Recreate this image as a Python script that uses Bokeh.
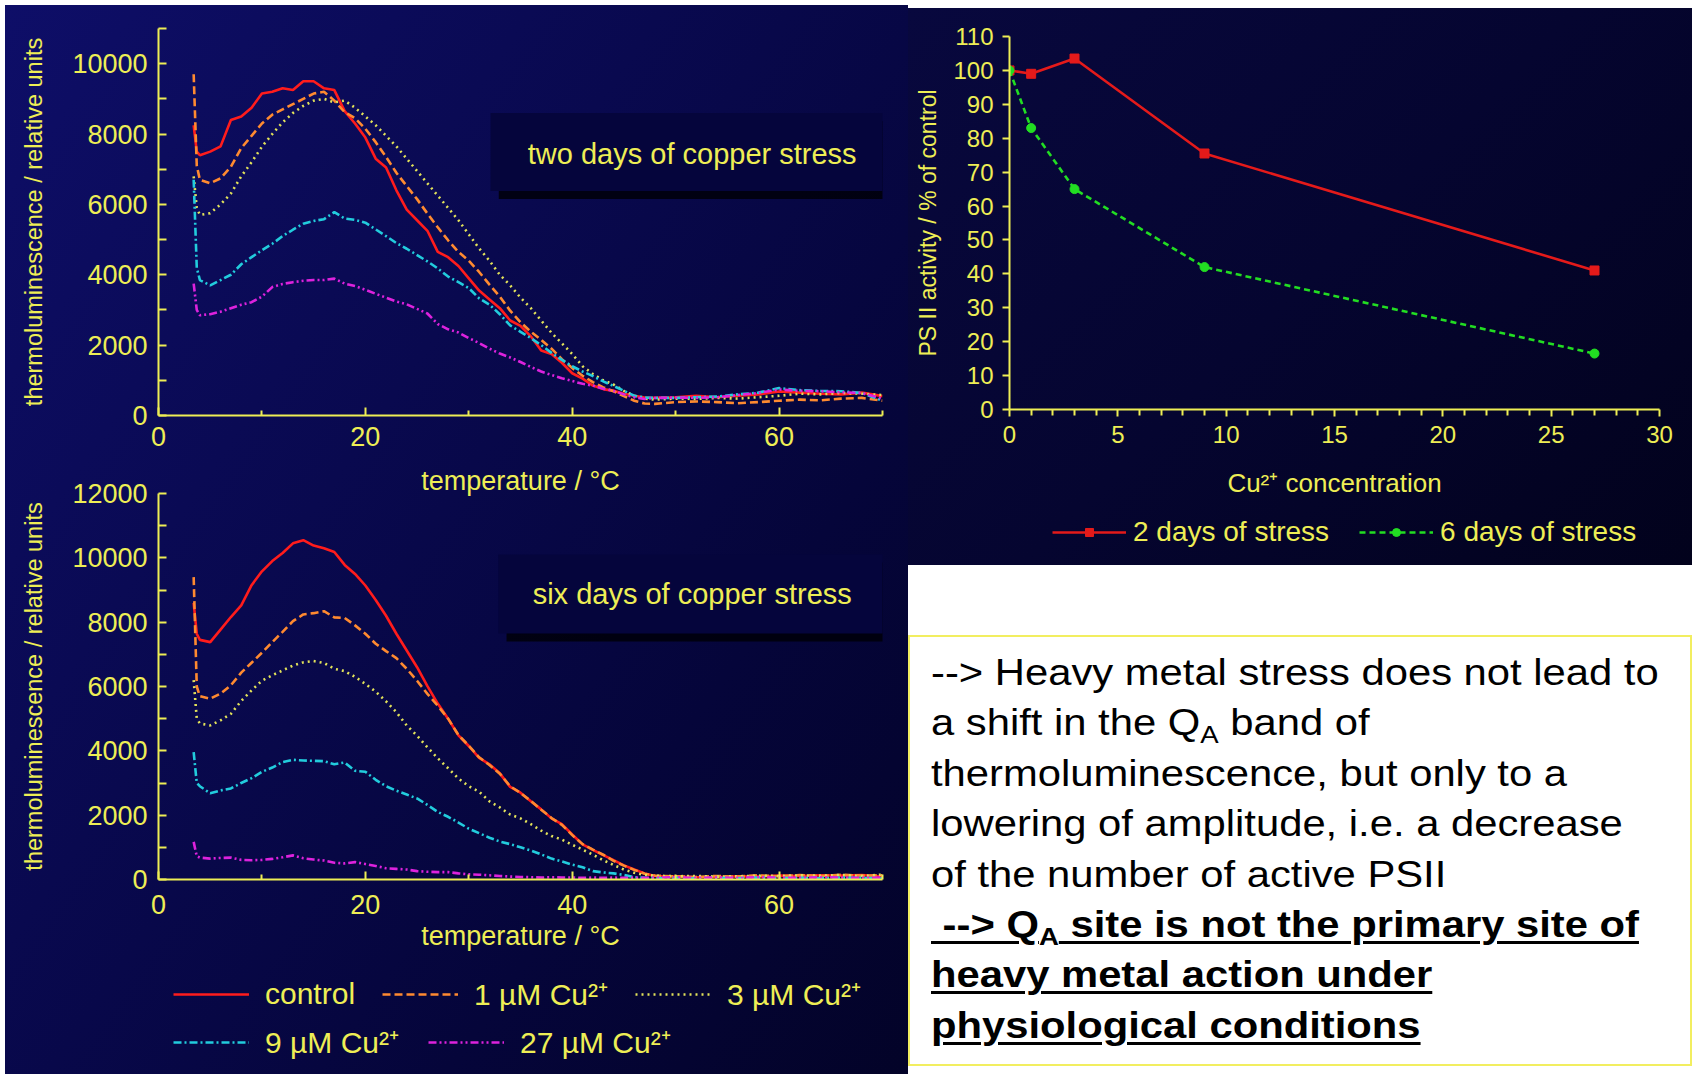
from bokeh.plotting import figure
from bokeh.models import Legend, LegendItem, Div, Range1d, FixedTicker, Label, BoxAnnotation
from bokeh.layouts import row, column
from bokeh.embed import file_html
from bokeh.resources import INLINE

# ---------------- data ----------------
temperature = [3.4, 3.7, 4,
               5, 6, 7, 8, 9, 10, 11, 12, 13, 14,
               15, 16, 17, 18, 19, 20, 21, 22, 23, 24,
               25, 26, 27, 28, 29, 30, 31, 32, 33, 34,
               35, 36, 37, 38, 39, 40, 41, 42, 43, 44,
               45, 46, 47,
               48, 50, 52, 54, 56, 58, 60, 62, 64, 66, 68, 70]

two_days_control = [8250, 7500, 7400,
                    7500, 7650, 8400, 8500, 8750, 9150, 9200, 9300, 9250, 9500,
                    9500, 9300, 9250, 8650, 8300, 7900, 7300, 7050, 6400, 5850,
                    5550, 5250, 4650, 4500, 4250, 3900, 3550, 3300, 3050, 2700,
                    2550, 2250, 1850, 1750, 1500, 1200, 1050, 850, 750, 700,
                    620, 560, 510,
                    500, 520, 560, 520, 560, 600, 680, 650, 620, 600, 650, 550]
two_days_cu1 = [9700, 7100, 6700,
                6600, 6740, 7070, 7600, 7950, 8300, 8550, 8700, 8850, 9000,
                9150, 9200, 8950, 8620, 8450, 8150, 7770, 7350, 6900, 6520,
                6150, 5740, 5350, 4980, 4650, 4400, 4080, 3720, 3380, 2980,
                2650, 2380, 2150, 1900, 1600, 1350, 1130, 950, 800, 690,
                550, 420, 340,
                330, 380, 400, 380, 350, 380, 420, 450, 430, 480, 500, 420]
two_days_cu3 = [6800, 5900, 5700,
                5750, 6000, 6310, 6800, 7200, 7640, 8000, 8330, 8600, 8800,
                8950, 9000, 8900, 8950, 8750, 8500, 8250, 7950, 7650, 7300,
                6950, 6600, 6250, 5900, 5550, 5150, 4750, 4400, 4000, 3700,
                3350, 3050, 2700, 2350, 2050, 1750, 1400, 1180, 1000, 880,
                700, 560, 480,
                450, 480, 470, 500, 480, 520, 560, 620, 600, 640, 620, 580]
two_days_cu9 = [6700, 4200, 3850,
                3700, 3850, 4000, 4300, 4500, 4700, 4880, 5100, 5280, 5450,
                5530, 5580, 5780, 5600, 5560, 5480, 5290, 5100, 4900, 4740,
                4560, 4380, 4180, 3950, 3790, 3620, 3330, 3150, 2880, 2560,
                2380, 2200, 2000, 1780, 1580, 1400, 1250, 1120, 970, 840,
                700, 560, 510,
                500, 500, 520, 540, 600, 650, 780, 720, 700, 690, 640, 420]
two_days_cu27 = [3750, 3000, 2850,
                 2880, 2950, 3050, 3150, 3220, 3380, 3650, 3740, 3790, 3830,
                 3850, 3850, 3890, 3750, 3680, 3570, 3460, 3350, 3240, 3160,
                 3030, 2900, 2600, 2450, 2360, 2200, 2060, 1900, 1760, 1650,
                 1520, 1380, 1250, 1150, 1060, 980, 900, 850, 760, 700,
                 600, 520, 470,
                 500, 510, 500, 520, 580, 640, 740, 700, 690, 660, 640, 480]

six_days_control = [8600, 7640, 7450,
                    7380, 7770, 8160, 8520, 9150, 9580, 9900, 10150, 10450, 10550,
                    10380, 10300, 10180, 9780, 9500, 9140, 8690, 8200, 7640, 7120,
                    6600, 6010, 5470, 5000, 4480, 4150, 3780, 3580, 3300, 2880,
                    2700, 2430, 2180, 1900, 1720, 1400, 1090, 920, 760, 600,
                    440, 310, 190,
                    110, 90, 70, 80, 100, 90, 120, 110, 130, 120, 140, 90]
six_days_cu1 = [9400, 6000, 5700,
                5620, 5780, 6040, 6430, 6740, 7050, 7380, 7700, 8030, 8240,
                8280, 8340, 8150, 8130, 7900, 7640, 7330, 7100, 6880, 6550,
                6180, 5770, 5400, 5000, 4490, 4160, 3800, 3560, 3290, 2900,
                2690, 2440, 2170, 1910, 1700, 1380, 1100, 930, 770, 580,
                430, 300, 180,
                120, 100, 80, 110, 90, 130, 100, 140, 110, 150, 120, 130]
six_days_cu3 = [6200, 5000, 4850,
                4790, 4950, 5150, 5550, 5880, 6180, 6350, 6500, 6650, 6750,
                6790, 6730, 6550, 6480, 6300, 6080, 5840, 5540, 5200, 4790,
                4470, 4110, 3770, 3460, 3140, 2900, 2730, 2430, 2240, 2020,
                1900, 1720, 1520, 1350, 1240, 1080, 930, 770, 600, 450,
                310, 210, 140,
                120, 100, 110, 90, 100, 120, 110, 130, 120, 140, 110, 150]
six_days_cu9 = [3960, 3000, 2900,
                2680, 2770, 2830, 3000, 3150, 3350, 3480, 3650, 3720, 3700,
                3690, 3680, 3580, 3640, 3380, 3350, 3100, 2900, 2760, 2640,
                2520, 2320, 2100, 1950, 1770, 1580, 1440, 1300, 1180, 1100,
                1000, 900, 780, 650, 560, 460, 380, 260, 220, 190,
                140, 70, 50,
                40, 50, 30, 50, 40, 60, 40, 50, 40, 60, 50, 40]
six_days_cu27 = [1170, 720, 680,
                 650, 670, 680, 610, 600, 610, 640, 690, 750, 660,
                 620, 590, 520, 500, 540, 480, 420, 350, 330, 310,
                 260, 240, 230, 230, 190, 160, 150, 130, 110, 90,
                 80, 70, 60, 70, 60, 60, 50, 60, 50, 60,
                 50, 60, 50,
                 60, 70, 50, 60, 50, 70, 60, 50, 70, 60, 50, 60]

series_labels = ["control", "1 µM Cu²⁺", "3 µM Cu²⁺", "9 µM Cu²⁺", "27 µM Cu²⁺"]

cu_concentration = [0, 1, 3, 9, 27]
psii_two_days = [100, 99, 103.5, 75.5, 41]
psii_six_days = [100, 83, 65, 42, 16.5]
stress_labels = ["2 days of stress", "6 days of stress"]

thermo_x_ticks = [0, 20, 40, 60]
thermo_x_minor = [10, 30, 50, 70]
top_y_ticks = [0, 2000, 4000, 6000, 8000, 10000]
top_y_minor = [1000, 3000, 5000, 7000, 9000, 11000]
bot_y_ticks = [0, 2000, 4000, 6000, 8000, 10000, 12000]
bot_y_minor = [1000, 3000, 5000, 7000, 9000, 11000]
ps_x_ticks = [0, 5, 10, 15, 20, 25, 30]
ps_y_ticks = [0, 10, 20, 30, 40, 50, 60, 70, 80, 90, 100, 110]

# ---------------- style ----------------
FONT = "Liberation Sans"
YEL = "#eeee55"
LINE_STYLES = [("#ff1c1c", "solid"), ("#ff8a30", "8 4"), ("#e2e25a", "2 4"),
               ("#22ccdd", "8 3 2 3"), ("#dd22dd", "8 3 2 3 2 3")]
RED2, GREEN6 = "#e41a1a", "#22dd22"


def base_fig(width, height, x_end, y_end, borders):
    p = figure(width=width, height=height,
               x_range=Range1d(0, x_end), y_range=Range1d(0, y_end),
               output_backend="svg", toolbar_location=None,
               min_border_left=borders[0], min_border_right=borders[1],
               min_border_top=borders[2], min_border_bottom=borders[3],
               background_fill_alpha=0, border_fill_alpha=0,
               outline_line_color=None, margin=0)
    p.xgrid.visible = False
    p.ygrid.visible = False
    for ax in (p.xaxis[0], p.yaxis[0]):
        ax.axis_line_color = YEL
        ax.axis_line_width = 2
        ax.major_tick_line_color = YEL
        ax.minor_tick_line_color = YEL
        ax.major_tick_line_width = 2
        ax.minor_tick_line_width = 2
        ax.major_label_text_color = YEL
        ax.major_label_text_font = FONT
        ax.axis_label_text_color = YEL
        ax.axis_label_text_font = FONT
        ax.axis_label_text_font_style = "normal"
    return p


def legend_fig(width, height, x_end):
    # strip that only carries a legend; its y-range lies below all data, so the
    # proxy renderers (built from the real series) stay outside the visible frame
    p = figure(width=width, height=height, x_range=Range1d(0, x_end), y_range=Range1d(-2, -1),
               output_backend="svg", toolbar_location=None,
               x_axis_location=None, y_axis_location=None,
               min_border=0, background_fill_alpha=0, border_fill_alpha=0,
               outline_line_color=None, margin=0)
    p.xgrid.visible = False
    p.ygrid.visible = False
    return p


def make_legend(items, loc, font, glyph_w, standoff, spacing):
    return Legend(items=items, orientation="horizontal", location=loc,
                  glyph_width=glyph_w, glyph_height=20, label_standoff=standoff,
                  spacing=spacing, padding=0, margin=0, border_line_alpha=0,
                  background_fill_alpha=0, label_text_font_size=font,
                  label_text_color=YEL, label_text_font=FONT)


def thermo_fig(height, y_end, y_ticks, y_minor, top_b, bottom_b, values, title,
               box, shadow_dy, title_y, xlab_standoff, xtick_standoff):
    p = base_fig(903, height, 70, y_end, (153, 26, top_b, bottom_b))
    p.xaxis.ticker = FixedTicker(ticks=thermo_x_ticks, minor_ticks=thermo_x_minor)
    p.yaxis.ticker = FixedTicker(ticks=y_ticks, minor_ticks=y_minor)
    p.xaxis.major_tick_in = 8
    p.xaxis.major_tick_out = 0
    p.xaxis.minor_tick_in = 5
    p.xaxis.minor_tick_out = 0
    p.yaxis.major_tick_in = 8
    p.yaxis.major_tick_out = 0
    p.yaxis.minor_tick_in = 8
    p.yaxis.minor_tick_out = 0
    p.xaxis.major_label_text_font_size = "27px"
    p.yaxis.major_label_text_font_size = "27px"
    p.xaxis.major_label_standoff = xtick_standoff
    p.yaxis.major_label_standoff = 11
    p.xaxis.axis_label = "temperature / °C"
    p.xaxis.axis_label_text_font_size = "27px"
    p.xaxis.axis_label_standoff = xlab_standoff
    p.yaxis.axis_label = "thermoluminescence / relative units"
    p.yaxis.axis_label_text_font_size = "23.5px"
    p.yaxis.axis_label_standoff = 22

    left, right, top, bottom = box
    p.add_layout(BoxAnnotation(left=left + 0.8, right=right + 0.8, top=top - shadow_dy,
                               bottom=bottom - shadow_dy, fill_color="#000008",
                               fill_alpha=0.85, line_alpha=0))
    p.add_layout(BoxAnnotation(left=left, right=right, top=top, bottom=bottom,
                               fill_color="#05053c", fill_alpha=1, line_alpha=0))
    p.add_layout(Label(x=51.6, y=title_y, text=title, text_align="center",
                       text_baseline="middle", text_color=YEL, text_font=FONT,
                       text_font_size="29px"))

    for vals, (col, dash) in zip(values, LINE_STYLES):
        p.line(temperature, vals, line_color=col, line_width=2.6, line_dash=dash)
    return p


six_days_all = [six_days_control, six_days_cu1, six_days_cu3, six_days_cu9, six_days_cu27]

fig_t = thermo_fig(500, 11000, top_y_ticks, top_y_minor, 23, 90,
                   [two_days_control, two_days_cu1, two_days_cu3, two_days_cu9, two_days_cu27],
                   "two days of copper stress", (32.1, 71.0, 8600, 6380), 227, 7435, 17, 11)

fig_b = thermo_fig(479, 12000, bot_y_ticks, bot_y_minor, 13, 80, six_days_all,
                   "six days of copper stress", (32.85, 70.7, 10100, 7650), 248, 8890, 4, 15)
fig_b.margin = (-25, 0, 0, 0)

# legend strip under the six-days chart (frame aligned with the chart frame)
fig_leg = legend_fig(903, 115, 70)
leg_renderers = [fig_leg.line(temperature, vals, line_color=col, line_width=2.6, line_dash=dash)
                 for vals, (col, dash) in zip(six_days_all, LINE_STYLES)]
leg_a = make_legend([LegendItem(label=series_labels[i], renderers=[leg_renderers[i]])
                     for i in range(3)], (15, 60), "30px", 76, 16, 27)
leg_b = make_legend([LegendItem(label=series_labels[i], renderers=[leg_renderers[i]])
                     for i in range(3, 5)], (15, 12), "30px", 76, 16, 29)
fig_leg.add_layout(leg_a)
fig_leg.add_layout(leg_b)

# ---------------- PS II activity chart ----------------
fig_r = base_fig(784, 495, 30, 110, (101, 33, 28, 94))
fig_r.xaxis.ticker = FixedTicker(ticks=ps_x_ticks, minor_ticks=[i for i in range(31) if i % 5])
fig_r.yaxis.ticker = FixedTicker(ticks=ps_y_ticks, minor_ticks=[])
fig_r.xaxis.major_tick_in = 0
fig_r.xaxis.major_tick_out = 7
fig_r.xaxis.minor_tick_in = 0
fig_r.xaxis.minor_tick_out = 6
fig_r.yaxis.major_tick_in = 0
fig_r.yaxis.major_tick_out = 7
fig_r.xaxis.major_label_text_font_size = "24px"
fig_r.yaxis.major_label_text_font_size = "24px"
fig_r.xaxis.major_label_standoff = 9
fig_r.yaxis.major_label_standoff = 9
fig_r.xaxis.axis_label = "Cu²⁺ concentration"
fig_r.xaxis.axis_label_text_font_size = "26px"
fig_r.xaxis.axis_label_standoff = 22
fig_r.yaxis.axis_label = "PS II activity / % of control"
fig_r.yaxis.axis_label_text_font_size = "23px"
fig_r.yaxis.axis_label_standoff = 9

fig_r.line(cu_concentration, psii_two_days, line_color=RED2, line_width=2.6)
fig_r.scatter(cu_concentration, psii_two_days, marker="square", size=9,
              fill_color=RED2, line_color=RED2)
fig_r.line(cu_concentration, psii_six_days, line_color=GREEN6, line_width=2.6, line_dash="6 4")
fig_r.scatter(cu_concentration, psii_six_days, marker="circle", size=9,
              fill_color=GREEN6, line_color=GREEN6)

fig_rleg = legend_fig(784, 62, 30)
rl2 = fig_rleg.line(cu_concentration, psii_two_days, line_color=RED2, line_width=2.6)
rs2 = fig_rleg.scatter(cu_concentration, psii_two_days, marker="square", size=9,
                       fill_color=RED2, line_color=RED2)
rl6 = fig_rleg.line(cu_concentration, psii_six_days, line_color=GREEN6, line_width=2.6,
                    line_dash="6 4")
rs6 = fig_rleg.scatter(cu_concentration, psii_six_days, marker="circle", size=9,
                       fill_color=GREEN6, line_color=GREEN6)
leg_r = make_legend([LegendItem(label=stress_labels[0], renderers=[rl2, rs2]),
                     LegendItem(label=stress_labels[1], renderers=[rl6, rs6])],
                    (43, 17), "28px", 74, 7, 30)
fig_rleg.add_layout(leg_r)

# ---------------- text box ----------------
sub = '<sub style="font-size:0.66em;line-height:0;vertical-align:-0.32em">A</sub>'
ul = 'style="text-decoration:underline;text-decoration-thickness:3px;text-underline-offset:4px"'
html = (
    '<div style="box-sizing:border-box;width:784px;height:431px;background:#ffffff;'
    'border:2px solid #f2ee60;padding:11px 0 0 21px;overflow:hidden;'
    "font-family:'Liberation Sans',Arial,sans-serif;color:#000000;\">"
    '<div style="transform:scaleX(1.16);transform-origin:0 0;font-size:36px;'
    'line-height:50.4px;white-space:nowrap;">'
    '--&gt; Heavy metal stress does not lead to<br>'
    'a shift in the Q' + sub + ' band of<br>'
    'thermoluminescence, but only to a<br>'
    'lowering of amplitude, i.e. a decrease<br>'
    'of the number of active PSII<br>'
    '<b><span ' + ul + '>&nbsp;--&gt; Q' + sub + ' site is not the primary site of</span></b><br>'
    '<b><span ' + ul + '>heavy metal action under</span></b><br>'
    '<b><span ' + ul + '>physiological conditions</span></b>'
    '</div></div>'
)
note = Div(text=html, width=784, height=431, margin=(70, 0, 0, 0))

# ---------------- layout ----------------
left_col = column(fig_t, fig_b, fig_leg, margin=(5, 0, 0, 5), spacing=0,
                  styles={"background": "linear-gradient(125deg, #0e0e68 0%, #09094f 40%, "
                                        "#05053a 72%, #030328 100%)"})
right_top = column(fig_r, fig_rleg, margin=(8, 0, 0, 0), spacing=0,
                   styles={"background": "linear-gradient(135deg, #08083e 0%, #050530 50%, #02021c 100%)"})
right_col = column(right_top, note, margin=0, spacing=0)
root = row(left_col, right_col, margin=0, spacing=0)

open("out.html", "w").write(file_html(root, INLINE, title="Copper stress thermoluminescence"))
